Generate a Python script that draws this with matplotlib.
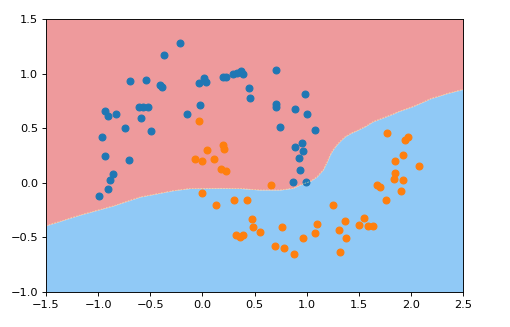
import numpy as np
import matplotlib
matplotlib.use("Agg")
import matplotlib.pyplot as plt

# Class 0 samples (upper moon)
class0_x = [-0.215, -0.372, -0.695, -0.541, -0.407, -0.385, -0.033, 0.015, 0.034, 0.200,
            0.226, 0.296, 0.334, 0.367, 0.386, 0.708, 0.443, 0.456, 0.705, 0.705,
            0.983, 0.887, 1.005, 0.744, 1.076, 0.887, 0.957, 0.964, 0.926, 0.935,
            0.863, 0.993, -0.023, -0.145, -0.493, -0.589, -0.608, -0.570, -0.527, -0.743,
            -0.939, -0.901, -0.829, -0.960, -0.934, -0.709, -0.860, -0.886, -0.910, -0.992]
class0_y = [1.283, 1.170, 0.929, 0.941, 0.896, 0.880, 0.917, 0.957, 0.926, 0.972,
            0.972, 0.996, 1.008, 1.027, 0.994, 1.030, 0.871, 0.777, 0.722, 0.691,
            0.813, 0.676, 0.630, 0.514, 0.484, 0.332, 0.362, 0.291, 0.230, 0.117,
            0.003, 0.007, 0.712, 0.630, 0.474, 0.596, 0.690, 0.690, 0.690, 0.506,
            0.658, 0.607, 0.630, 0.415, 0.241, 0.209, 0.083, 0.026, -0.057, -0.125]

# Class 1 samples (lower moon)
class1_x = [-0.038, 0.048, 0.192, 0.207, -0.076, 0.000, 0.106, 0.178, 0.228, -0.009,
            0.130, 0.298, 0.430, 0.657, 0.478, 0.489, 0.552, 0.322, 0.360, 0.389,
            0.766, 0.696, 0.782, 0.875, 0.959, 1.079, 1.098, 1.247, 1.306, 1.367,
            1.378, 1.319, 1.498, 1.546, 1.584, 1.630, 1.674, 1.705, 1.762, 1.832,
            1.846, 1.918, 1.904, 1.846, 1.926, 2.071, 1.772, 1.942, 1.966]
class1_y = [0.564, 0.300, 0.342, 0.305, 0.218, 0.195, 0.218, 0.126, 0.108, -0.091,
            -0.206, -0.158, -0.158, -0.020, -0.327, -0.409, -0.455, -0.475, -0.499, -0.476,
            -0.409, -0.581, -0.594, -0.649, -0.501, -0.457, -0.377, -0.205, -0.434, -0.354,
            -0.503, -0.638, -0.386, -0.318, -0.400, -0.400, -0.020, -0.036, -0.158, 0.035,
            0.094, 0.026, -0.077, 0.198, 0.255, 0.151, 0.459, 0.392, 0.417]

# Decision boundary of the classifier
boundary_x = [-1.5, -1.174, -0.858, -0.599, -0.282, -0.119, 0.168, 0.360, 0.552, 0.744,
              0.868, 0.935, 1.031, 1.095, 1.156, 1.194, 1.223, 1.250, 1.290, 1.330,
              1.367, 1.420, 1.482, 1.558, 1.635, 1.722, 1.827, 1.875, 2.019, 2.191,
              2.354, 2.5]
boundary_y = [-0.393, -0.295, -0.212, -0.130, -0.072, -0.052, -0.050, -0.052, -0.066, -0.066,
              -0.050, -0.020, 0.012, 0.053, 0.117, 0.190, 0.255, 0.300, 0.350, 0.390,
              0.422, 0.452, 0.479, 0.514, 0.560, 0.591, 0.630, 0.651, 0.699, 0.772,
              0.820, 0.856]

dpi = 82
fig = plt.figure(figsize=(510 / dpi, 327 / dpi), dpi=dpi)
ax = fig.add_axes([0.0902, 0.107, 0.8182, 0.835])

xmin, xmax, ymin, ymax = -1.5, 2.5, -1.0, 1.5
bx = np.array(boundary_x)
by = np.array(boundary_y)
ax.fill_between(bx, by, ymax, color="#ee9a9c", linewidth=0)
ax.fill_between(bx, ymin, by, color="#90c9f6", linewidth=0)
ax.plot(bx, by, color="#f6eda8", linewidth=0.5, linestyle=(0, (3, 2)))

ax.scatter(class0_x, class0_y, color="#1f77b4")
ax.scatter(class1_x, class1_y, color="#ff7f0e")

ax.set_xlim(xmin, xmax)
ax.set_ylim(ymin, ymax)
ax.set_xticks(np.arange(-1.5, 2.51, 0.5))
ax.set_yticks(np.arange(-1.0, 1.51, 0.5))

fig.savefig("out.png", dpi=dpi)
